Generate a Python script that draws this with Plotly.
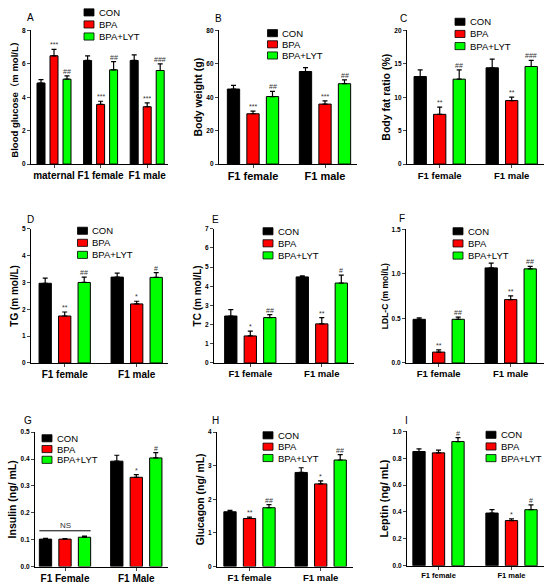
import plotly.graph_objects as go

# =============================================================================
# 3x3 panel of grouped bar charts (mean + SEM), CON / BPA / BPA+LYT
# =============================================================================

W, H = 550, 588
FONT = "Liberation Sans, Arial, Noto Sans CJK SC, sans-serif"
GROUPS = ["CON", "BPA", "BPA+LYT"]
COLORS = ["#000000", "#ff0000", "#00ff00"]

# A - blood glucose
a_cats = ["maternal", "F1 female", "F1 male"]
a_con, a_con_err = [4.85, 6.20, 6.20], [0.20, 0.27, 0.33]
a_bpa, a_bpa_err = [6.48, 3.57, 3.43], [0.38, 0.19, 0.23]
a_lyt, a_lyt_err = [5.08, 5.64, 5.60], [0.20, 0.49, 0.39]
a_bpa_sig, a_lyt_sig = ["***", "***", "***"], ["##", "##", "###"]

# B - body weight
b_cats = ["F1 female", "F1 male"]
b_con, b_con_err = [44.9, 55.4], [2.2, 2.3]
b_bpa, b_bpa_err = [30.1, 35.9], [1.6, 1.9]
b_lyt, b_lyt_err = [40.4, 48.1], [3.1, 2.3]
b_bpa_sig, b_lyt_sig = ["***", "***"], ["##", "##"]

# C - body fat ratio
c_cats = ["F1 female", "F1 male"]
c_con, c_con_err = [13.1, 14.4], [1.0, 1.3]
c_bpa, c_bpa_err = [7.44, 9.5], [1.08, 0.5]
c_lyt, c_lyt_err = [12.7, 14.6], [1.4, 0.9]
c_bpa_sig, c_lyt_sig = ["**", "**"], ["##", "###"]

# D - TG
d_cats = ["F1 female", "F1 male"]
d_con, d_con_err = [2.97, 3.20], [0.19, 0.15]
d_bpa, d_bpa_err = [1.75, 2.20], [0.15, 0.10]
d_lyt, d_lyt_err = [3.00, 3.19], [0.20, 0.18]
d_bpa_sig, d_lyt_sig = ["**", "*"], ["##", "#"]

# E - TC
e_cats = ["F1 female", "F1 male"]
e_con, e_con_err = [2.45, 4.49], [0.33, 0.06]
e_bpa, e_bpa_err = [1.41, 2.04], [0.25, 0.33]
e_lyt, e_lyt_err = [2.37, 4.17], [0.15, 0.41]
e_bpa_sig, e_lyt_sig = ["*", "**"], ["##", "#"]

# F - LDL-C
f_cats = ["F1 female", "F1 male"]
f_con, f_con_err = [0.49, 1.067], [0.017, 0.053]
f_bpa, f_bpa_err = [0.122, 0.711], [0.026, 0.041]
f_lyt, f_lyt_err = [0.49, 1.056], [0.025, 0.029]
f_bpa_sig, f_lyt_sig = ["**", "**"], ["##", "##"]

# G - insulin
g_cats = ["F1 Female", "F1 Male"]
g_con, g_con_err = [0.102, 0.392], [0.003, 0.022]
g_bpa, g_bpa_err = [0.102, 0.332], [0.002, 0.010]
g_lyt, g_lyt_err = [0.109, 0.404], [0.004, 0.020]
g_bpa_sig, g_lyt_sig = ["", "*"], ["", "#"]

# H - glucagon
h_cats = ["F1 female", "F1 male"]
h_con, h_con_err = [1.63, 2.80], [0.04, 0.14]
h_bpa, h_bpa_err = [1.43, 2.46], [0.04, 0.09]
h_lyt, h_lyt_err = [1.75, 3.17], [0.09, 0.16]
h_bpa_sig, h_lyt_sig = ["**", "*"], ["##", "##"]

# I - leptin
i_cats = ["F1 female", "F1 male"]
i_con, i_con_err = [0.850, 0.392], [0.020, 0.025]
i_bpa, i_bpa_err = [0.840, 0.336], [0.020, 0.012]
i_lyt, i_lyt_err = [0.924, 0.417], [0.029, 0.036]
i_bpa_sig, i_lyt_sig = ["", "*"], ["#", "#"]

# geometry in pixels: axis left, axis right, first category centre, category
# step, bar width, bar pitch, axis top, axis bottom
panels = [
    dict(letter="A", cats=a_cats, means=[a_con, a_bpa, a_lyt], errs=[a_con_err, a_bpa_err, a_lyt_err],
         sig=[None, a_bpa_sig, a_lyt_sig], ytitle="Blood glucose（m mol/L）", ymax=8, dtick=2, fmt="",
         geom=(31, 168, 54, 46.6, 8, 13, 26.7, 162), catsize=10, tsize=9.5, standoff=1,
         lab=(30, 14), leg=(84, 8.5, 12.2)),
    dict(letter="B", cats=b_cats, means=[b_con, b_bpa, b_lyt], errs=[b_con_err, b_bpa_err, b_lyt_err],
         sig=[None, b_bpa_sig, b_lyt_sig], ytitle="Body weight (g)", ymax=80, dtick=20, fmt="",
         geom=(219, 357, 253, 72, 12.3, 19.5, 26.7, 162), catsize=11, tsize=10.5, standoff=1,
         lab=(218, 15), leg=(267.5, 29.5, 11.3)),
    dict(letter="C", cats=c_cats, means=[c_con, c_bpa, c_lyt], errs=[c_con_err, c_bpa_err, c_lyt_err],
         sig=[None, c_bpa_sig, c_lyt_sig], ytitle="Body fat ratio (%)", ymax=20, dtick=5, fmt="",
         geom=(407, 544, 439.7, 72, 12.3, 19.5, 26.7, 162), catsize=9.5, tsize=10.5, standoff=1,
         lab=(403, 15), leg=(455, 18, 12.3)),
    dict(letter="D", cats=d_cats, means=[d_con, d_bpa, d_lyt], errs=[d_con_err, d_bpa_err, d_lyt_err],
         sig=[None, d_bpa_sig, d_lyt_sig], ytitle="TG (m mol/L)", ymax=5, dtick=1, fmt="",
         geom=(31, 168, 64.7, 72, 12.3, 19.5, 227.5, 363.3), catsize=10, tsize=10, standoff=1,
         lab=(30, 218), leg=(77.5, 229.5, 12.2)),
    dict(letter="E", cats=e_cats, means=[e_con, e_bpa, e_lyt], errs=[e_con_err, e_bpa_err, e_lyt_err],
         sig=[None, e_bpa_sig, e_lyt_sig], ytitle="TC (m mol/L)", ymax=7, dtick=1, fmt="",
         geom=(214, 354, 250.3, 71.5, 12.3, 19.5, 227.5, 363.3), catsize=9.5, tsize=10, standoff=1,
         lab=(215, 218), leg=(263, 230, 12.2)),
    dict(letter="F", cats=f_cats, means=[f_con, f_bpa, f_lyt], errs=[f_con_err, f_bpa_err, f_lyt_err],
         sig=[None, f_bpa_sig, f_lyt_sig], ytitle="LDL-C (m mol/L)", ymax=1.5, dtick=0.5, fmt=".1f",
         geom=(406, 544, 438.7, 72, 12.3, 19.5, 228, 363.3), catsize=9.5, tsize=8.5, standoff=1,
         lab=(402, 217), leg=(453, 230, 12.3)),
    dict(letter="G", cats=g_cats, means=[g_con, g_bpa, g_lyt], errs=[g_con_err, g_bpa_err, g_lyt_err],
         sig=[None, g_bpa_sig, g_lyt_sig], ytitle="Insulin (ng/ mL)", ymax=0.5, dtick=0.1, fmt=".1f",
         geom=(35, 168, 65, 71.3, 12.3, 19.5, 433.3, 569.3), catsize=10, tsize=10.5, standoff=1,
         lab=(28, 422), leg=(42, 439.5, 10.9)),
    dict(letter="H", cats=h_cats, means=[h_con, h_bpa, h_lyt], errs=[h_con_err, h_bpa_err, h_lyt_err],
         sig=[None, h_bpa_sig, h_lyt_sig], ytitle="Glucagon (ng/ mL)", ymax=4, dtick=1, fmt="",
         geom=(217, 353, 249.5, 71.2, 12.3, 19.5, 433.3, 569.3), catsize=9.5, tsize=10.4, standoff=1,
         lab=(215, 422), leg=(263, 436.5, 11.5)),
    dict(letter="I", cats=i_cats, means=[i_con, i_bpa, i_lyt], errs=[i_con_err, i_bpa_err, i_lyt_err],
         sig=[None, i_bpa_sig, i_lyt_sig], ytitle="Leptin (ng/ mL)", ymax=1.0, dtick=0.2, fmt=".1f",
         geom=(407, 544, 438.5, 73, 12.3, 19.5, 432.5, 568.5), catsize=7.5, tsize=10.8, standoff=1,
         lab=(406, 422), leg=(486, 436, 11.8)),
]


def bold(size):
    return dict(family=FONT, size=size, color="black", weight="bold")


fig = go.Figure()
layout_axes = {}

for n, p in enumerate(panels, start=1):
    sfx = "" if n == 1 else str(n)
    x0, x1, c0, step, bw, pitch, ytop, ybot = p["geom"]
    wu, pu = bw / step, pitch / step
    idx = list(range(len(p["cats"])))

    for k in range(3):
        fig.add_trace(
            go.Bar(
                x=p["cats"],
                y=p["means"][k],
                name=GROUPS[k],
                width=wu,
                offset=(k - 1) * pu - wu / 2,
                marker=dict(color=COLORS[k], line=dict(color="black", width=1)),
                error_y=dict(
                    type="data",
                    array=p["errs"][k],
                    arrayminus=[0] * len(idx),
                    symmetric=False,
                    color="black",
                    thickness=1.2,
                    width=2.5,
                ),
                xaxis="x" + sfx,
                yaxis="y" + sfx,
                showlegend=False,
            )
        )
        # significance marks above the error bars
        if p["sig"][k]:
            for i, mark in zip(idx, p["sig"][k]):
                if mark:
                    fig.add_annotation(
                        x=i + (k - 1) * pu,
                        y=p["means"][k][i] + p["errs"][k][i],
                        xref="x" + sfx,
                        yref="y" + sfx,
                        text=mark,
                        showarrow=False,
                        yanchor="bottom",
                        borderpad=0,
                        font=dict(family=FONT, size=7, color="#333333"),
                    )

    layout_axes["xaxis" + sfx] = dict(
        domain=[x0 / W, x1 / W],
        range=[(x0 - c0) / step, (x1 - c0) / step],
        type="category",
        anchor="y" + sfx,
        showline=True,
        linecolor="black",
        linewidth=1.2,
        ticks="outside",
        ticklen=3,
        tickwidth=1.2,
        tickfont=bold(p["catsize"]),
        ticklabelstandoff=-1,
        showgrid=False,
        zeroline=False,
        fixedrange=True,
    )
    layout_axes["yaxis" + sfx] = dict(
        domain=[1 - ybot / H, 1 - ytop / H],
        range=[0, p["ymax"]],
        tick0=0,
        dtick=p["dtick"],
        tickformat=p["fmt"],
        anchor="x" + sfx,
        showline=True,
        linecolor="black",
        linewidth=1.2,
        ticks="outside",
        ticklen=3,
        tickwidth=1.2,
        tickfont=bold(6.5),
        showgrid=False,
        zeroline=False,
        fixedrange=True,
        title=dict(text=p["ytitle"], font=bold(p["tsize"]), standoff=p["standoff"]),
    )

    # panel letter
    lx, ly = p["lab"]
    fig.add_annotation(
        x=lx / W, y=1 - ly / H, xref="paper", yref="paper", text=p["letter"],
        showarrow=False, xanchor="center", yanchor="middle",
        font=dict(family=FONT, size=10, color="black"),
    )

    # per-panel key
    gx, gy, gap = p["leg"]
    for k in range(3):
        yc = gy + k * gap
        fig.add_shape(
            type="rect", xref="paper", yref="paper",
            x0=gx / W, x1=(gx + 10) / W, y0=1 - (yc + 3.6) / H, y1=1 - (yc - 3.6) / H,
            fillcolor=COLORS[k], line=dict(color="black", width=0.8),
        )
        fig.add_annotation(
            x=(gx + 13.5) / W, y=1 - yc / H, xref="paper", yref="paper", text=GROUPS[k],
            showarrow=False, xanchor="left", yanchor="middle", borderpad=0,
            font=dict(family=FONT, size=9.5, color="black"),
        )

# NS bracket over the F1 female insulin bars
g_step, g_bw, g_pitch = 71.3, 12.3, 19.5
ns_y = max(m + e for m, e in zip([g_con[0], g_bpa[0], g_lyt[0]], [g_con_err[0], g_bpa_err[0], g_lyt_err[0]])) + 0.02
half = (g_pitch + g_bw / 2) / g_step
fig.add_shape(type="line", xref="x7", yref="y7", x0=-half, x1=half, y0=ns_y, y1=ns_y,
              line=dict(color="black", width=1))
fig.add_annotation(x=0, y=ns_y, xref="x7", yref="y7", text="NS", showarrow=False,
                   yanchor="bottom", borderpad=0, font=dict(family=FONT, size=8, color="#333333"))

fig.update_layout(
    width=W,
    height=H,
    autosize=False,
    margin=dict(l=0, r=0, t=0, b=0),
    paper_bgcolor="white",
    plot_bgcolor="white",
    barmode="overlay",
    showlegend=False,
    font=dict(family=FONT, color="black"),
    **layout_axes,
)

# the page's default body margin would push the figure out of the window
fig.write_html(
    "out.html",
    config={"displayModeBar": False},
    post_script="document.body.style.margin = '0';",
)
